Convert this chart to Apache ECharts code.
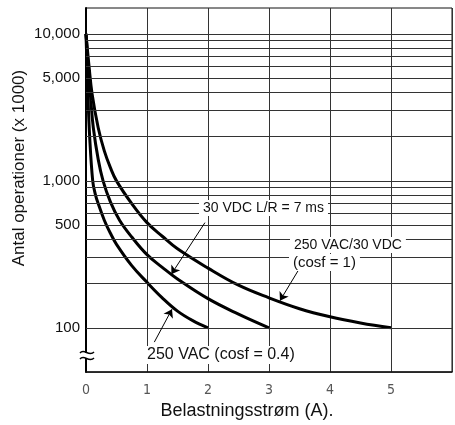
<!DOCTYPE html>
<html>
<head>
<meta charset="utf-8">
<script src="https://cdn.jsdelivr.net/npm/echarts@6/dist/echarts.min.js"></script>
<style>
html, body { margin: 0; padding: 0; background: #fff; }
#chart { width: 455px; height: 425px; }
</style>
</head>
<body>
<div id="chart"></div>
<script>
// tick labels
const xTicks = [0, 1, 2, 3, 4, 5];
const yGridValues = [100, 200, 300, 400, 500, 600, 700, 800, 900,
    1000, 2000, 3000, 4000, 5000, 6000, 7000, 8000, 9000, 10000];
const yTickValues = [100, 500, 1000, 5000, 10000];
const yTickLabels = ['100', '500', '1,000', '5,000', '10,000'];

// curves (x = A, y = operations x 1000)
const vac04X = [0, 0.03, 0.06, 0.11, 0.15, 0.2, 0.3, 0.4, 0.5, 0.75, 1, 1.25, 1.5, 1.75, 2];
const vac04Y = [10000, 4000, 2000, 1000, 820, 700, 540, 440, 370, 265, 204, 160, 130, 112, 100];

const vdcX = [0, 0.04, 0.08, 0.12, 0.2, 0.28, 0.4, 0.55, 0.75, 1, 1.25, 1.5, 2, 2.5, 3];
const vdcY = [10000, 5800, 3500, 2300, 1400, 1000, 720, 540, 415, 315, 258, 215, 158, 124, 100];

const cosf1X = [0, 0.05, 0.1, 0.2, 0.3, 0.4, 0.5, 0.75, 1, 1.25, 1.5, 2, 2.5, 3, 3.5, 4, 4.5, 5];
const cosf1Y = [10000, 6000, 3900, 2300, 1600, 1230, 1000, 700, 520, 420, 345, 255, 195, 160, 135, 119, 108, 100];

// leader arrows: [from, to] in data units
const vdcArrow = [[1.95, 520], [1.40, 232]];
const cosf1Arrow = [[3.51, 258], [3.18, 153]];
const vac04Arrow = [[1.12, 80], [1.41, 134]];

const zip = (xs, ys) => xs.map((x, i) => [x, ys[i]]);

const font = '"Liberation Sans", Arial, Helvetica, sans-serif';
const labelSet = {};
yTickValues.forEach((v, i) => { labelSet[v] = yTickLabels[i]; });

const curve = (name, data, arrow) => ({
    name: name,
    type: 'line',
    data: data,
    symbol: 'none',
    smooth: 0.4,
    z: 3,
    lineStyle: { color: '#000', width: 3 },
    markLine: {
        silent: true,
        symbol: ['none', 'arrow'],
        symbolSize: 8,
        label: { show: false },
        lineStyle: { color: '#000', width: 1, type: 'solid' },
        data: [[{ coord: arrow[0] }, { coord: arrow[1] }]],
    },
});

const chart = echarts.init(document.getElementById('chart'));

chart.setOption({
    animation: false,
    grid: {
        left: 86,
        right: 0,
        top: 8,
        bottom: 50,
        show: true,
        borderColor: '#111',
        borderWidth: 1,
    },
    xAxis: {
        type: 'value',
        min: 0,
        max: 6,
        interval: 1,
        axisLine: { lineStyle: { color: '#111', width: 1.5 } },
        axisTick: { show: false },
        splitLine: { show: true, lineStyle: { color: '#333', width: 1 } },
        axisLabel: {
            color: '#555',
            fontSize: 14,
            fontFamily: '"Liberation Sans Narrow", "DejaVu Sans Condensed", sans-serif',
            margin: 11,
            formatter: (v) => (xTicks.includes(v) ? String(v) : ''),
        },
        name: 'Belastningsstrøm (A).',
        nameLocation: 'middle',
        nameGap: 29,
        nameTextStyle: { fontSize: 18, color: '#111', fontFamily: font, padding: [0, 44, 0, 0] },
    },
    yAxis: {
        type: 'log',
        logBase: 10,
        min: 50,
        max: 15000,
        axisLine: { show: true, onZero: false, lineStyle: { color: '#000', width: 2 } },
        axisTick: { show: false },
        axisLabel: { show: false },
        splitLine: { show: false },
        name: 'Antal operationer (x 1000)',
        nameLocation: 'middle',
        nameGap: 58,
        nameTextStyle: { fontSize: 17, color: '#111', fontFamily: font, padding: [0, 0, 0, 44] },
    },
    series: [
        {
            type: 'line',
            data: [],
            silent: true,
            z: 1,
            markLine: {
                silent: true,
                symbol: ['none', 'none'],
                lineStyle: { color: '#333', width: 1, type: 'solid' },
                label: {
                    position: 'start',
                    distance: 6,
                    color: '#111',
                    fontSize: 15,
                    fontFamily: font,
                    formatter: (p) => labelSet[p.value] || '',
                },
                data: yGridValues.map((v) => ({ yAxis: v, label: { show: v in labelSet } })),
            },
        },
        curve('250 VAC (cosf = 0.4)', zip(vac04X, vac04Y), vac04Arrow),
        curve('30 VDC L/R = 7 ms', zip(vdcX, vdcY), vdcArrow),
        curve('250 VAC/30 VDC (cosf = 1)', zip(cosf1X, cosf1Y), cosf1Arrow),
    ],
    graphic: [
        {
            type: 'text', left: 199, top: 200, z: 10,
            style: { text: '30 VDC L/R = 7 ms', font: '14px ' + font, fill: '#111', backgroundColor: '#fff', padding: [1, 4] },
        },
        {
            type: 'text', left: 290, top: 237, z: 10,
            style: { text: '250 VAC/30 VDC', font: '14px ' + font, fill: '#111', backgroundColor: '#fff', padding: [1, 4] },
        },
        {
            type: 'text', left: 289, top: 254, z: 10,
            style: { text: '(cosf = 1)', font: '15px ' + font, fill: '#111', backgroundColor: '#fff', padding: [1, 4] },
        },
        {
            type: 'text', left: 143, top: 346, z: 10,
            style: { text: '250 VAC (cosf = 0.4)', font: '16px ' + font, fill: '#111', backgroundColor: '#fff', padding: [1, 4] },
        },
        // axis break mark
        { type: 'rect', z: 10, shape: { x: 82, y: 353, width: 10, height: 5 }, style: { fill: '#fff' } },
        {
            type: 'bezierCurve', z: 11,
            shape: { x1: 80, y1: 353, cpx1: 84, cpy1: 348, cpx2: 89, cpy2: 357, x2: 94, y2: 352 },
            style: { stroke: '#000', lineWidth: 1.5, fill: null },
        },
        {
            type: 'bezierCurve', z: 11,
            shape: { x1: 80, y1: 359, cpx1: 84, cpy1: 354, cpx2: 89, cpy2: 363, x2: 94, y2: 358 },
            style: { stroke: '#000', lineWidth: 1.5, fill: null },
        },
    ],
});

window.addEventListener('resize', chart.resize);
</script>
</body>
</html>
